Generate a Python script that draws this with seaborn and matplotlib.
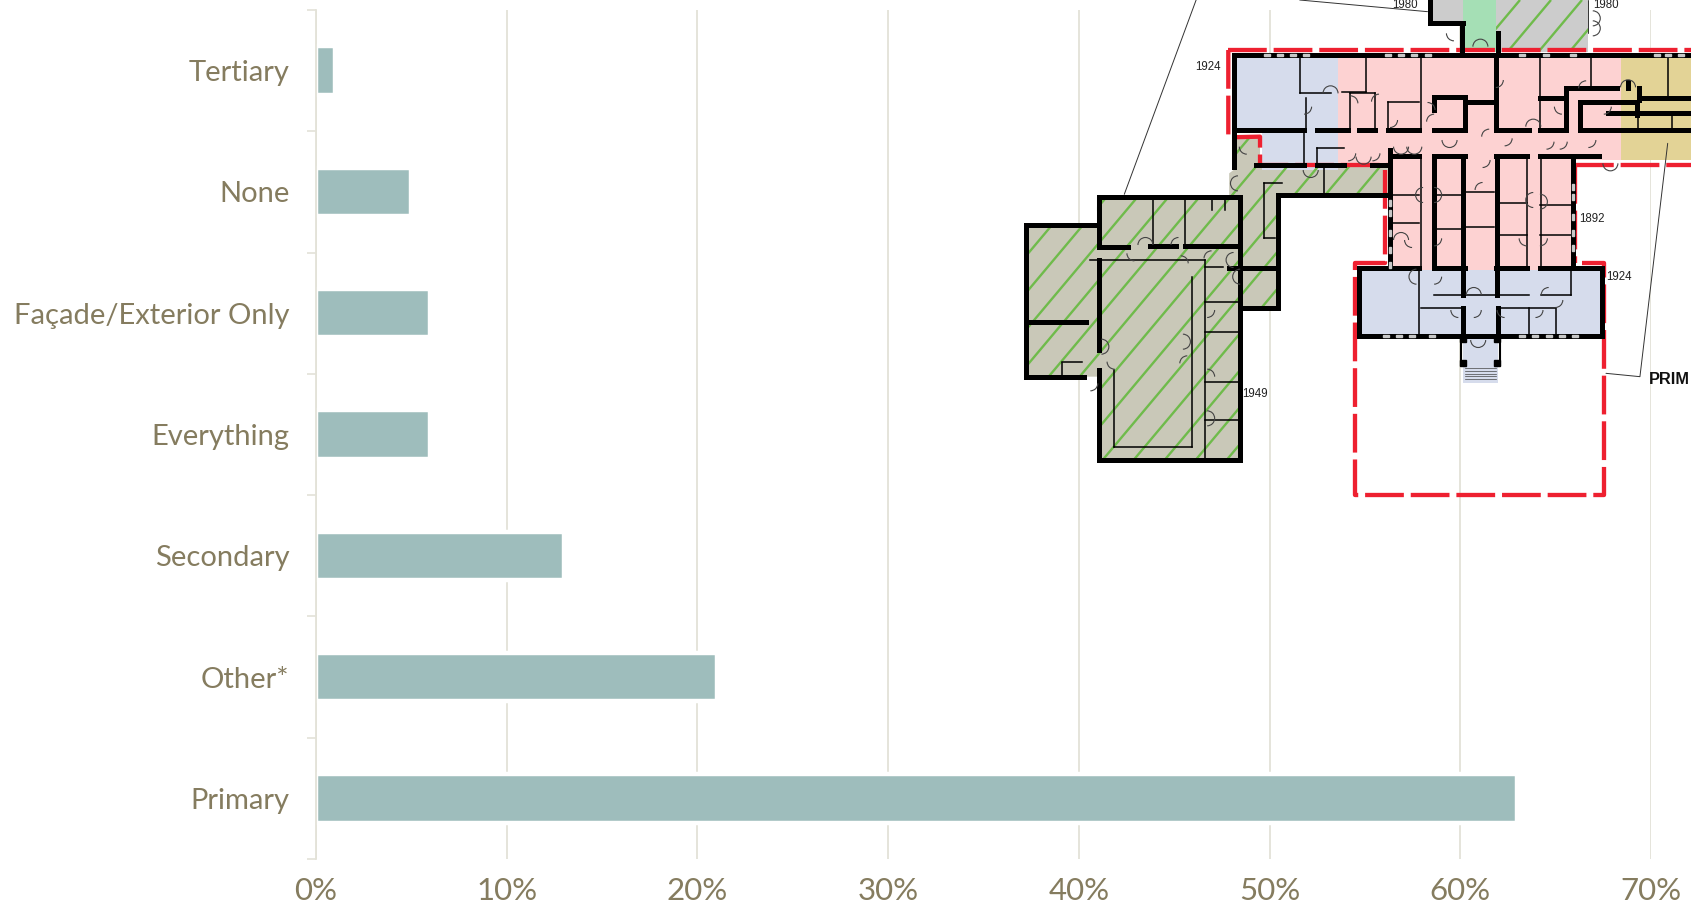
#!/usr/bin/env python3
"""Horizontal bar chart with a floor plan sketch laid over the top right corner"""

import numpy as np
import pandas as pd
import matplotlib.pyplot as plt
from matplotlib.patches import Polygon, Arc, Rectangle
import seaborn as sns

categories = ['Tertiary', 'None', 'Façade/Exterior Only', 'Everything',
              'Secondary', 'Other*', 'Primary']
shares = [1, 5, 6, 6, 13, 21, 63]
x_ticks = [0, 10, 20, 30, 40, 50, 60, 70]

BAR = '#9ebdbc'
TEXT = '#857c5f'
GRID = '#e3e2d8'

sns.set_style("white")
plt.rcParams['font.family'] = ['Lato', 'DejaVu Sans']

df = pd.DataFrame({'category': categories, 'share': shares})

fig = plt.figure(figsize=(16.91, 9.15), dpi=100)
ax = fig.add_axes([316 / 1691, 1 - 859 / 915, 1335 / 1691, 849 / 915])

sns.barplot(data=df, y='category', x='share', color=BAR, saturation=1,
            width=0.4, edgecolor='white', linewidth=3.2, ax=ax)

ax.set_xlim(0, 70)
ax.set_ylim(6.5, -0.5)
ax.set_xlabel('')
ax.set_ylabel('')
ax.set_xticks(x_ticks)
ax.set_xticklabels([f'{t}%' for t in x_ticks], fontsize=22.5, color=TEXT)
ax.set_yticks(np.arange(len(categories)))
ax.set_yticklabels(categories, fontsize=21, color=TEXT)
ax.set_yticks(np.arange(len(categories) + 1) - 0.5, minor=True)
ax.tick_params(axis='y', which='major', left=False, length=0, pad=19)
ax.tick_params(axis='y', which='minor', left=True, length=6.3, width=1.2, color=GRID)
ax.tick_params(axis='x', length=0, pad=13)
ax.grid(True, axis='x', color=GRID, linewidth=1.3)
ax.set_axisbelow(True)
for side in ['top', 'right', 'bottom']:
    ax.spines[side].set_visible(False)
ax.spines['left'].set_color(GRID)
ax.spines['left'].set_linewidth(1.3)

# ---- floor plan, coordinates measured on the zoomed crop of the plan ----
plan = fig.add_axes([0, 0, 1, 1], facecolor='none')
plan.set_xlim(0, 1691)
plan.set_ylim(915, 0)
plan.axis('off')


def z(zx, zy):
    return 1000 + zx / 2.269, zy / 3


def fill(points, color, zorder=1):
    patch = Polygon([z(*p) for p in points], closed=True, facecolor=color,
                    edgecolor='none', zorder=zorder)
    plan.add_patch(patch)
    return patch


def hatch(patch, spacing=31):
    for c in np.arange(900, 2200, spacing):
        line, = plan.plot([c - 420, c], [500, 0], color='#6fbb4b', lw=1.7,
                          zorder=2, solid_capstyle='butt')
        line.set_clip_path(patch)


def walls(segments, lw=3.6, color='black', zorder=5):
    for x0, y0, x1, y1 in segments:
        a, b = z(x0, y0), z(x1, y1)
        plan.plot([a[0], b[0]], [a[1], b[1]], color=color, lw=lw, zorder=zorder,
                  solid_capstyle='projecting')


west_wing = [(60, 675), (220, 675), (220, 590), (520, 590), (520, 520), (530, 510),
             (530, 410), (590, 410), (590, 500), (880, 500), (880, 585), (630, 590),
             (630, 925), (545, 925), (545, 1380), (225, 1380), (225, 1130), (60, 1130)]
hatch(fill(west_wing, '#c9c8b8'))
north_block = [(1125, 0), (1335, 0), (1335, 155), (1125, 155)]
hatch(fill(north_block, '#cccccc'))
fill([(975, 0), (1050, 0), (1050, 70), (975, 70)], '#cccccc')
hatch(fill([(980, 0), (1010, 0), (1010, 30), (980, 30)], '#cccccc'))
fill([(1050, 0), (1125, 0), (1125, 155), (1050, 155)], '#a5dfb5')

fill([(530, 170), (768, 170), (768, 510), (595, 510), (595, 395), (530, 395)], '#d6dcec')
fill([(768, 170), (1410, 170), (1410, 480), (1300, 480), (1300, 810), (885, 810),
      (885, 490), (768, 490)], '#fdd2d2')
fill([(1410, 170), (1568, 170), (1568, 480), (1410, 480)], '#e3d396')
fill([(815, 810), (1365, 810), (1365, 1005), (1130, 1005), (1130, 1150), (1050, 1150),
      (1050, 1005), (815, 1005)], '#d6dcec')

# red dashed boundary
red_path = [(518, 150), (1568, 150)], [(518, 150), (518, 412), (590, 410), (590, 495),
                                       (880, 495)], \
           [(873, 510), (873, 790), (805, 790), (805, 1485), (1370, 1485), (1370, 790),
            (1320, 790)], [(1305, 495), (1305, 790)], [(1305, 495), (1568, 495)]
for run in red_path:
    pts = np.array([z(*p) for p in run])
    plan.plot(pts[:, 0], pts[:, 1], color='#ee2030', lw=3.1, zorder=4,
              linestyle=(0, (9, 1.6)), solid_capstyle='butt')

thick = [
    (530, 165, 1568, 165), (530, 165, 530, 500), (530, 390, 690, 390), (720, 390, 790, 390),
    (815, 390, 850, 390), (880, 390, 950, 390), (985, 390, 1055, 390), (1125, 390, 1200, 390),
    (1225, 390, 1285, 390), (1315, 390, 1568, 390),
    (885, 468, 950, 468), (985, 468, 1055, 468), (1125, 468, 1195, 468), (1225, 468, 1360, 468),
    (580, 495, 690, 495), (720, 495, 780, 495), (845, 495, 885, 495), (885, 450, 885, 800),
    (630, 585, 885, 585), (630, 585, 630, 925), (545, 925, 630, 925),
    (545, 590, 545, 1380), (225, 590, 545, 590), (225, 590, 225, 740), (60, 675, 220, 675),
    (60, 675, 60, 1130), (60, 1130, 190, 1130), (225, 1110, 225, 1380), (225, 1380, 545, 1380),
    (60, 965, 195, 965), (225, 780, 225, 1050), (225, 740, 290, 740), (340, 737, 400, 737),
    (420, 737, 540, 737), (520, 805, 625, 805),
    (1300, 470, 1300, 800), (1050, 470, 1050, 885), (1127, 470, 1127, 885), (985, 470, 985, 800),
    (815, 805, 950, 805), (985, 805, 1055, 805), (1125, 805, 1195, 805), (1225, 805, 1365, 805),
    (815, 805, 815, 1007), (1365, 805, 1365, 1007), (815, 1007, 1365, 1007),
    (1050, 925, 1050, 1015), (1130, 925, 1130, 1015),
    (975, 0, 975, 70), (975, 70, 1050, 70), (1048, 70, 1048, 165), (1130, 100, 1130, 165),
    (1125, 165, 1125, 390), (1285, 265, 1400, 265), (1315, 305, 1445, 305), (1315, 305, 1315, 385),
    (1445, 305, 1445, 345), (1225, 295, 1285, 295), (1285, 265, 1285, 385), (985, 290, 1055, 290),
    (985, 290, 985, 330), (1055, 290, 1055, 385), (1060, 305, 1125, 305),
    (1380, 340, 1568, 340), (1425, 245, 1425, 265), (1450, 265, 1450, 300), (1450, 295, 1568, 295),
]
walls(thick)

thin = [
    (680, 170, 680, 280), (680, 280, 750, 280), (695, 295, 695, 385), (830, 170, 830, 275),
    (775, 275, 830, 275), (795, 280, 850, 280), (795, 280, 795, 385), (850, 280, 850, 385),
    (880, 305, 950, 305), (880, 305, 880, 385), (955, 170, 955, 385), (1225, 165, 1225, 385),
    (1340, 170, 1340, 265), (1515, 170, 1515, 295), (690, 400, 690, 490), (720, 445, 720, 490),
    (720, 445, 780, 445), (735, 500, 735, 585), (955, 470, 955, 800), (890, 670, 950, 670),
    (890, 585, 950, 585), (985, 585, 1050, 585), (985, 688, 1050, 688), (1058, 575, 1120, 575),
    (1058, 680, 1120, 680), (1135, 610, 1195, 610), (1135, 705, 1195, 705), (1225, 615, 1295, 615),
    (1225, 705, 1295, 705), (1195, 470, 1195, 800), (1228, 470, 1228, 800),
    (985, 885, 1200, 885), (1228, 885, 1295, 885), (1295, 810, 1295, 885), (950, 810, 950, 1005),
    (955, 925, 1050, 925), (1130, 925, 1260, 925), (1200, 925, 1200, 1005), (1262, 925, 1262, 1005),
    (348, 595, 348, 735), (420, 595, 420, 735), (480, 600, 480, 630), (510, 600, 510, 630),
    (205, 780, 465, 780), (258, 1110, 258, 1340), (258, 1340, 435, 1340), (435, 830, 435, 1340),
    (465, 780, 465, 1375), (465, 800, 505, 800), (465, 905, 540, 905), (465, 995, 540, 995),
    (465, 1145, 540, 1145), (465, 1260, 540, 1260), (140, 1090, 140, 1125), (140, 1085, 185, 1085),
    (600, 550, 600, 715), (600, 550, 640, 550), (600, 715, 625, 715), (1447, 350, 1447, 385),
    (1525, 335, 1525, 385),
]
walls(thin, lw=1.1)

# porch and steps
for sy in np.arange(1105, 1145, 8):
    walls([(1055, sy, 1125, sy)], lw=0.5, color='#444444')
walls([(1045, 1015, 1045, 1095), (1135, 1015, 1135, 1095)], lw=1.5)
for wy in [1015, 1088]:
    for wx in [1050, 1128]:
        corner = z(wx - 6, wy - 8)
        plan.add_patch(Rectangle(corner, 6, 6, color='black', zorder=5))

# window marks sitting on the walls
for wx in [875, 905, 935, 980, 1185, 1215, 1245, 1275, 1305]:
    x, y = z(wx, 1007)
    plan.add_patch(Rectangle((x - 3, y - 1), 6, 2, color='#c8c8c8', zorder=6))
for wx in [605, 635, 665, 695, 880, 910, 940, 970, 1185, 1240, 1300, 1490, 1515, 1545]:
    x, y = z(wx, 165)
    plan.add_patch(Rectangle((x - 3, y - 1), 6, 2, color='#c8c8c8', zorder=6))
for wy in [560, 590, 650, 700, 745]:
    x, y = z(1300, wy)
    plan.add_patch(Rectangle((x - 1, y - 3), 2, 6, color='#c8c8c8', zorder=6))
    x, y = z(885, wy + 50)
    plan.add_patch(Rectangle((x - 1, y - 3), 2, 6, color='#c8c8c8', zorder=6))

# door swings: crop x, crop y, start angle, end angle
doors = [
    (750, 280, 180, 360), (690, 320, 0, 90), (795, 310, 270, 360), (860, 305, 180, 270),
    (885, 360, 0, 90), (970, 330, 270, 360), (985, 365, 180, 270), (1125, 240, 0, 90),
    (1330, 265, 180, 270), (1275, 320, 90, 180), (1425, 262, 180, 360), (1370, 320, 0, 90),
    (1110, 410, 180, 270), (1145, 415, 0, 90), (1210, 380, 180, 360), (1240, 425, 0, 90),
    (1270, 425, 0, 90), (1335, 420, 0, 90), (910, 440, 0, 180), (940, 440, 0, 180),
    (1020, 420, 0, 180), (790, 460, 0, 90), (825, 470, 0, 180), (845, 460, 0, 90),
    (1095, 480, 0, 90), (1095, 570, 180, 270), (960, 585, 90, 270), (985, 585, 270, 90),
    (1210, 600, 90, 270), (1225, 605, 270, 90), (1195, 715, 90, 180), (1225, 715, 0, 90),
    (935, 720, 90, 180), (985, 715, 0, 90), (910, 720, 180, 360), (945, 830, 90, 270),
    (985, 830, 0, 90), (1075, 885, 180, 360), (1245, 885, 180, 270), (1260, 900, 0, 90),
    (1040, 930, 90, 180), (1075, 930, 0, 90), (1145, 930, 90, 180), (1215, 930, 0, 90),
    (1085, 1020, 0, 180), (330, 735, 180, 360), (405, 735, 180, 270), (305, 760, 90, 180),
    (410, 790, 270, 360), (480, 775, 180, 270), (530, 780, 90, 270), (545, 830, 90, 270),
    (470, 930, 0, 90), (415, 1025, 270, 90), (425, 1090, 180, 270), (470, 1130, 270, 360),
    (470, 1255, 270, 90), (230, 1040, 270, 90), (205, 1150, 0, 90), (260, 1085, 90, 180),
    (540, 550, 90, 270), (560, 440, 90, 180), (705, 510, 0, 180), (1030, 100, 90, 180),
    (1090, 140, 180, 360), (1345, 55, 270, 90), (1345, 85, 270, 90), (1385, 490, 0, 180),
]
for dx, dy, a0, a1 in doors:
    plan.add_patch(Arc(z(dx, dy), 15, 15, theta1=a0, theta2=a1, color='#444444', lw=0.8, zorder=6))

# leader lines and labels
for run in [[(445, 0), (282, 583)], [(680, 0), (970, 35)],
            [(1515, 430), (1452, 1130), (1375, 1120)], [(1335, 0), (1335, 100)]]:
    pts = np.array([z(*p) for p in run])
    plan.plot(pts[:, 0], pts[:, 1], color='#333333', lw=0.7, zorder=3)

years = ['1980', '1980', '1924', '1892', '1924', '1949']
year_pos = [(920, 14), (1376, 14), (473, 202), (1343, 656), (1405, 831), (578, 1181)]
for year, pos in zip(years, year_pos):
    tx, ty = z(*pos)
    plan.text(tx, ty, year, fontsize=8.3, family='Liberation Sans', color='#222222',
              ha='center', va='center', zorder=7)
tx, ty = z(1472, 1140)
plan.text(tx, ty, 'PRIM', fontsize=11.8, family='Liberation Sans', fontweight='bold',
          color='#111111', ha='left', va='center', zorder=7)

plt.savefig('out.png', dpi=100)
plt.close()
